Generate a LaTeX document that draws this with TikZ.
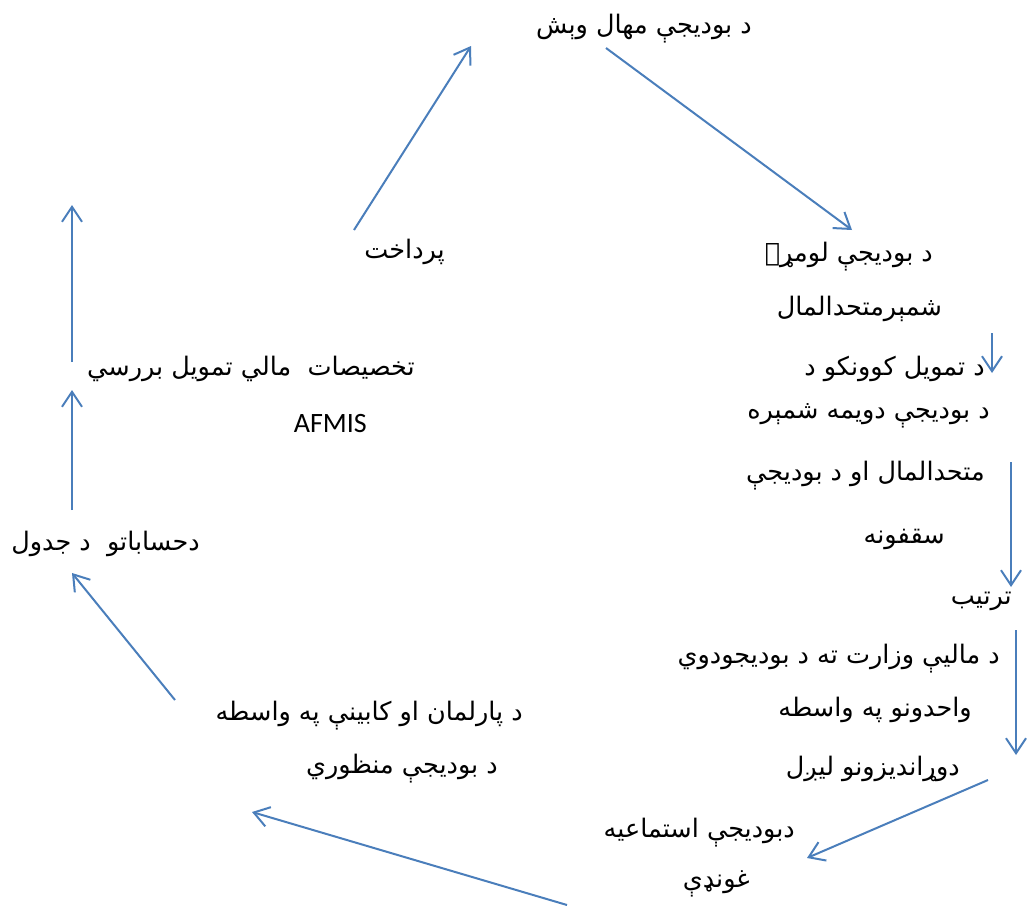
\documentclass[tikz,border=0pt]{standalone}
\usepackage{fontspec}
\setmainfont{Carlito}
\TeXXeTstate=1
\newfontfamily\arabicfont[Script=Arabic]{DejaVu Sans}
\usetikzlibrary{arrows.meta}
\definecolor{arrowblue}{HTML}{4A7EBB}
\tikzset{
  lbl/.style={inner sep=0pt, anchor=east, yshift=-4pt, font=\arabicfont\fontsize{25.5}{30}\selectfont},
  latin/.style={inner sep=0pt, anchor=east, yshift=-2pt, font=\fontsize{28}{32}\selectfont},
  flow/.style={draw=arrowblue, line width=2pt, -{Straight Barb[length=15pt,width=20pt]}}
}
\begin{document}
\begin{tikzpicture}[x=1pt,y=-1pt]
\useasboundingbox (0,0) rectangle (1029,913);
% top
\node[lbl] (t1) at (752,25) {\beginR د بوديجې مهال وېش\endR};
% right column
\node[lbl] (r1) at (933,253) {\beginR د بوديجې لومړۍ\endR};
\node[lbl] (r2) at (942,305) {\beginR شمېرمتحدالمال\endR};
\node[lbl] (r3) at (985,365) {\beginR د تمويل کوونکو د\endR};
\node[lbl] (r4) at (990,412) {\beginR د بوديجې دويمه شمېره\endR};
\node[lbl] (r5) at (985,472) {\beginR متحدالمال او د بوديجې\endR};
\node[lbl] (r6) at (945,535) {\beginR سقفونه\endR};
\node[lbl] (r7) at (1012,597) {\beginR ترتيب\endR};
\node[lbl] (r8) at (1000,655) {\beginR د ماليې وزارت ته د بوديجودوي\endR};
\node[lbl] (r9) at (972,706) {\beginR واحدونو په واسطه\endR};
\node[lbl] (r10) at (960,765) {\beginR دوړانديزونو ليږل\endR};
% bottom
\node[lbl] (b1) at (795,829) {\beginR دبوديجې استماعيه\endR};
\node[lbl] (b2) at (750,880) {\beginR غونډې\endR};
\node[lbl] (p1) at (523,712) {\beginR د پارلمان او کابينې په واسطه\endR};
\node[lbl] (p2) at (498,765) {\beginR د بوديجې منظوري\endR};
% left
\node[lbl] (l1) at (200,540) {\beginR دحساباتو~ د جدول\endR};
\node[lbl] (l2) at (415,365) {\beginR تخصيصات~ مالي تمويل بررسي\endR};
\node[latin] (af) at (367,422) {AFMIS};
\node[lbl] (pay) at (445,248) {\beginR پرداخت\endR};
% arrow endpoints
\coordinate (a1s) at (606,48);   \coordinate (a1e) at (852,230);
\coordinate (a2s) at (992,333);  \coordinate (a2e) at (992,373);
\coordinate (a3s) at (1011,462); \coordinate (a3e) at (1011,587);
\coordinate (a4s) at (1016,630); \coordinate (a4e) at (1016,755);
\coordinate (a5s) at (988,780);  \coordinate (a5e) at (807,858);
\coordinate (a6s) at (567,905);  \coordinate (a6e) at (252,812);
\coordinate (a7s) at (175,700);  \coordinate (a7e) at (72,573);
\coordinate (a8s) at (72,510);   \coordinate (a8e) at (72,390);
\coordinate (a9s) at (72,362);   \coordinate (a9e) at (72,205);
\coordinate (a10s) at (354,230); \coordinate (a10e) at (471,46);
\draw[flow] (a1s) -- (a1e);
\draw[flow] (a2s) -- (a2e);
\draw[flow] (a3s) -- (a3e);
\draw[flow] (a4s) -- (a4e);
\draw[flow] (a5s) -- (a5e);
\draw[flow] (a6s) -- (a6e);
\draw[flow] (a7s) -- (a7e);
\draw[flow] (a8s) -- (a8e);
\draw[flow] (a9s) -- (a9e);
\draw[flow] (a10s) -- (a10e);
\end{tikzpicture}
\end{document}
